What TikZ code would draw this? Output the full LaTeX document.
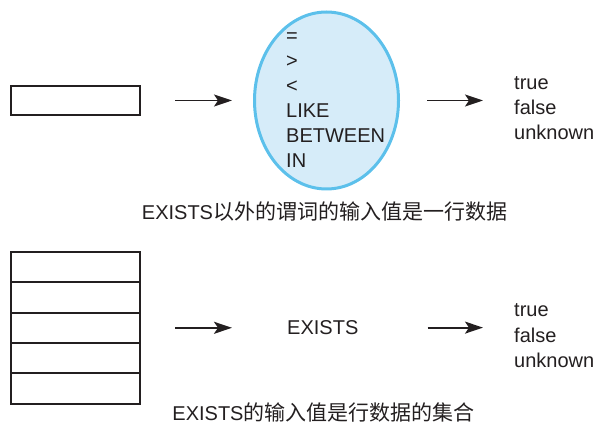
\documentclass[tikz,border=0pt]{standalone}
\usepackage{fontspec}
\setmainfont{Liberation Sans}
\newfontfamily\cjk{Noto Sans CJK SC}
\usetikzlibrary{arrows.meta,shapes.geometric}
\definecolor{ink}{RGB}{35,31,32}
\definecolor{skyfill}{RGB}{214,236,249}
\definecolor{skyline}{RGB}{92,192,235}
\tikzset{
    rowbox/.style={draw=ink, line width=2pt, minimum width=129pt, minimum height=29pt, inner sep=0pt},
    word/.style={inner sep=0pt, anchor=base west, text=ink, font=\fontsize{20}{24}\selectfont},
    caption/.style={inner sep=0pt, anchor=base, text=ink, font=\fontsize{20}{24}\selectfont},
    arr/.style={draw=ink, line width=1.8pt, -{Stealth[length=18pt, width=12pt, inset=4pt]}}
}
\begin{document}
\begin{tikzpicture}[x=1pt, y=-1pt]
    \useasboundingbox (0,0) rectangle (602,427);
    \node[rowbox] (single) at (75.5,100.5) {};
    \node[ellipse, draw=skyline, fill=skyfill, line width=3pt, minimum width=144pt, minimum height=177pt, inner sep=0pt] (cond) at (326.5,100.5) {};
    \node[word] (eq) at (286,42.5) {=};
    \node[word] (gt) at (286,67.5) {>};
    \node[word] (lt) at (286,92.5) {<};
    \node[word] (like) at (286,117.5) {LIKE};
    \node[word] (between) at (286,142.5) {BETWEEN};
    \node[word] (in) at (286,167.5) {IN};
    \node[word] (truea) at (514,90) {true};
    \node[word] (falsea) at (514,115) {false};
    \node[word] (unknowna) at (514,140) {unknown};
    \node[caption] (capa) at (324.5,220) {EXISTS{\cjk\fontsize{21}{24}\selectfont 以外的谓词的输入值是一行数据}};
    \node[rowbox, minimum height=30.3pt] (row1) at (75.5,267.2) {};
    \node[rowbox, minimum height=30.3pt] (row2) at (75.5,297.5) {};
    \node[rowbox, minimum height=30.3pt] (row3) at (75.5,327.8) {};
    \node[rowbox, minimum height=30.3pt] (row4) at (75.5,358.1) {};
    \node[rowbox, minimum height=30.3pt] (row5) at (75.5,388.4) {};
    \node[word] (exists) at (287,334.5) {EXISTS};
    \node[word] (trueb) at (514,317) {true};
    \node[word] (falseb) at (514,342) {false};
    \node[word] (unknownb) at (514,367) {unknown};
    \node[caption] (capb) at (323.5,420) {EXISTS{\cjk\fontsize{21}{24}\selectfont 的输入值是行数据的集合}};
    \draw[arr, shorten <=34pt, shorten >=21pt] (single) -- (cond);
    \draw[arr, shorten <=27pt, shorten >=31pt] (cond) -- (cond -| falsea.west);
    \draw[arr, shorten <=34pt, shorten >=55pt] (row3) -- (row3 -| exists.west);
    \draw[arr, shorten <=69pt, shorten >=31pt] (exists) -- (exists -| falseb.west);
\end{tikzpicture}
\end{document}
